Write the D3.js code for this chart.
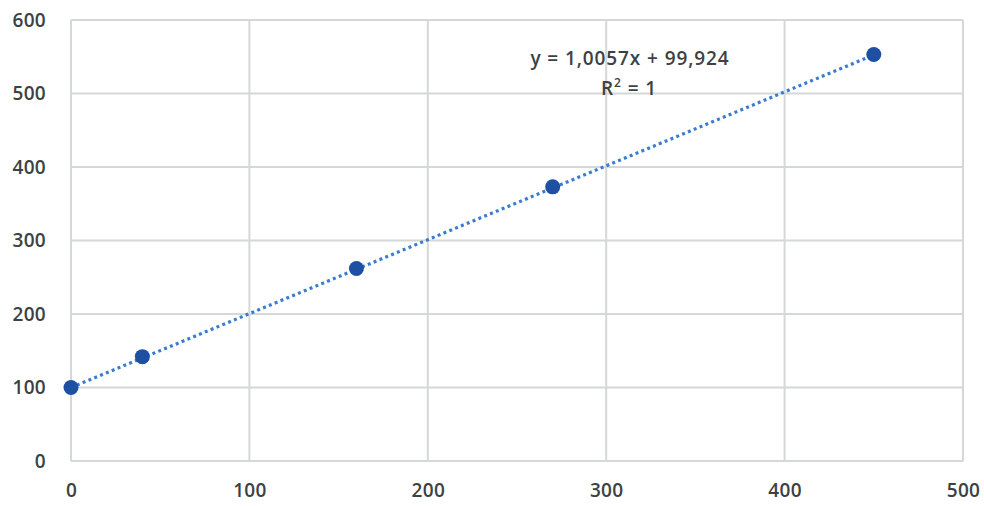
<!doctype html>
<html>
<head>
<meta charset="utf-8">
<script src="https://cdn.jsdelivr.net/npm/d3@7"></script>
<style>
  body { margin: 0; background: #fff; }
  text { font-family: "Open Sans", "Liberation Sans", sans-serif; }
</style>
</head>
<body>
<div id="chart"></div>
<script>
// measured points
var xValues = [0, 40, 160, 270, 450];
var yValues = [100, 142, 262, 373, 553];
var xTicks = [0, 100, 200, 300, 400, 500];
var yTicks = [0, 100, 200, 300, 400, 500, 600];
var slope = 1.0057, intercept = 99.924;
var eqLabel = "y = 1,0057x + 99,924";

var width = 984, height = 506;
var margin = {top: 20, right: 21, bottom: 45, left: 71};

var svg = d3.select("#chart").append("svg")
  .attr("width", width).attr("height", height);

var x = d3.scaleLinear().domain([0, 500]).range([margin.left, width - margin.right]);
var y = d3.scaleLinear().domain([0, 600]).range([height - margin.bottom, margin.top]);

// gridlines
svg.append("g").selectAll("line").data(xTicks).enter().append("line")
  .attr("x1", d => x(d)).attr("x2", d => x(d))
  .attr("y1", y(0)).attr("y2", y(600))
  .attr("stroke", "#d4d8d8").attr("stroke-width", 2);
svg.append("g").selectAll("line").data(yTicks).enter().append("line")
  .attr("x1", x(0)).attr("x2", x(500))
  .attr("y1", d => y(d)).attr("y2", d => y(d))
  .attr("stroke", "#d4d8d8").attr("stroke-width", 2);

// axes (labels only)
var yAxis = svg.append("g").attr("transform", "translate(" + x(0) + ",0)")
  .call(d3.axisLeft(y).tickValues(yTicks).tickSize(0).tickPadding(25));
var xAxis = svg.append("g").attr("transform", "translate(0," + y(0) + ")")
  .call(d3.axisBottom(x).tickValues(xTicks).tickSize(0).tickPadding(23));
[xAxis, yAxis].forEach(function(a) {
  a.select(".domain").remove();
  a.selectAll("text").attr("font-size", 19).attr("font-weight", 600)
    .attr("fill", "#3c4243")
    .style("letter-spacing", "0.3px")
    .style("font-family", "'Open Sans', sans-serif");
});

// trendline
var line = d3.line().x(d => x(d)).y(d => y(slope * d + intercept));
svg.append("path").datum([0, 450])
  .attr("d", line)
  .attr("fill", "none")
  .attr("stroke", "#3a7dd0")
  .attr("stroke-width", 3.2)
  .attr("stroke-dasharray", "3 3.3");

// points
svg.append("g").selectAll("circle").data(xValues).enter().append("circle")
  .attr("cx", d => x(d))
  .attr("cy", (d, i) => y(yValues[i]))
  .attr("r", 7.5)
  .attr("fill", "#1d4fa3");

// equation
var eq = svg.append("text").attr("x", 630).attr("y", 65)
  .attr("text-anchor", "middle").attr("font-size", 19).attr("font-weight", 600)
  .style("letter-spacing", "0.9px")
  .attr("fill", "#3c4243").text(eqLabel);
var r2 = svg.append("text").attr("x", 629).attr("y", 95)
  .attr("text-anchor", "middle").attr("font-size", 19).attr("font-weight", 600)
  .style("letter-spacing", "0.9px")
  .attr("fill", "#3c4243");
r2.append("tspan").text("R");
r2.append("tspan").attr("font-size", 12).attr("dy", -8).text("2");
r2.append("tspan").attr("dy", 8).text(" = 1");
</script>
</body>
</html>
